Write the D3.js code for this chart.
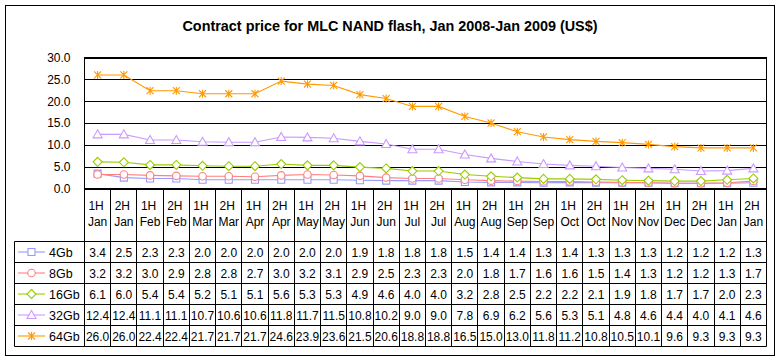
<!DOCTYPE html>
<html>
<head>
<meta charset="utf-8">
<script src="https://cdn.jsdelivr.net/npm/d3@7"></script>
<style>
  html, body { margin: 0; padding: 0; background: #fff; }
  svg { display: block; font-family: Arial, "Liberation Sans", sans-serif; }
</style>
</head>
<body>
<svg id="chart" width="781" height="361"></svg>
<script>
const title = "Contract price for MLC NAND flash, Jan 2008-Jan 2009 (US$)";
const halves = ["1H","2H","1H","2H","1H","2H","1H","2H","1H","2H","1H","2H","1H","2H","1H","2H","1H","2H","1H","2H","1H","2H","1H","2H","1H","2H"];
const months = ["Jan","Jan","Feb","Feb","Mar","Mar","Apr","Apr","May","May","Jun","Jun","Jul","Jul","Aug","Aug","Sep","Sep","Oct","Oct","Nov","Nov","Dec","Dec","Jan","Jan"];
const seriesNames = ["4Gb","8Gb","16Gb","32Gb","64Gb"];
const v4Gb  = [3.4,2.5,2.3,2.3,2.0,2.0,2.0,2.0,2.0,2.0,1.9,1.8,1.8,1.8,1.5,1.4,1.4,1.3,1.4,1.3,1.3,1.3,1.2,1.2,1.2,1.3];
const v8Gb  = [3.2,3.2,3.0,2.9,2.8,2.8,2.7,3.0,3.2,3.1,2.9,2.5,2.3,2.3,2.0,1.8,1.7,1.6,1.6,1.5,1.4,1.3,1.2,1.2,1.3,1.7];
const v16Gb = [6.1,6.0,5.4,5.4,5.2,5.1,5.1,5.6,5.3,5.3,4.9,4.6,4.0,4.0,3.2,2.8,2.5,2.2,2.2,2.1,1.9,1.8,1.7,1.7,2.0,2.3];
const v32Gb = [12.4,12.4,11.1,11.1,10.7,10.6,10.6,11.8,11.7,11.5,10.8,10.2,9.0,9.0,7.8,6.9,6.2,5.6,5.3,5.1,4.8,4.6,4.4,4.0,4.1,4.6];
const v64Gb = [26.0,26.0,22.4,22.4,21.7,21.7,21.7,24.6,23.9,23.6,21.5,20.6,18.8,18.8,16.5,15.0,13.0,11.8,11.2,10.8,10.5,10.1,9.6,9.3,9.3,9.3];
const yTicks = [0,5,10,15,20,25,30];

const seriesValues = [v4Gb, v8Gb, v16Gb, v32Gb, v64Gb];
const colors = ["#9999FF","#FF8080","#99CC00","#CC99FF","#FF9900"];
const markerTypes = ["square","circle","diamond","triangle","star"];

const svg = d3.select("#chart");
const plotL = 84.5, plotR = 766.5, plotT = 57.5, plotB = 188.5;
const tableTop = 241.5, rowH = 21, tableL = 14.5;
const idx = d3.range(halves.length);

const x = d3.scaleBand().domain(idx).range([plotL, plotR]);
const y = d3.scaleLinear().domain([0, 30]).range([plotB, plotT]);

// outer border
svg.append("rect").attr("x", 5.5).attr("y", 5.5).attr("width", 769).attr("height", 350)
  .attr("fill", "#fff").attr("stroke", "#000").attr("stroke-width", 1);

// title
svg.append("text").attr("x", 390).attr("y", 31).attr("text-anchor", "middle")
  .attr("font-size", 14.4).attr("font-weight", "bold").text(title);

// plot area
svg.append("rect").attr("x", plotL).attr("y", plotT).attr("width", plotR - plotL).attr("height", plotB - plotT)
  .attr("fill", "#fff").attr("stroke", "#000");

// gridlines
svg.append("g").selectAll("line").data(yTicks).join("line")
  .attr("x1", plotL).attr("x2", plotR)
  .attr("y1", d => Math.round(y(d)) + 0.5).attr("y2", d => Math.round(y(d)) + 0.5)
  .attr("stroke", "#000");

// y axis
const yAxis = d3.axisLeft(y).tickValues(yTicks).tickFormat(d3.format(".1f")).tickSize(0).tickPadding(14);
const gy = svg.append("g").attr("transform", `translate(${plotL},0)`).call(yAxis);
gy.select(".domain").remove();
gy.selectAll("text").attr("font-size", 12).attr("font-family", "Arial, 'Liberation Sans', sans-serif").attr("fill", "#000");

// table grid: vertical lines at category boundaries
const bounds = idx.map(i => x(i)).concat([plotR]);
svg.append("g").selectAll("line").data(bounds).join("line")
  .attr("x1", d => Math.round(d - 0.5) + 0.5).attr("x2", d => Math.round(d - 0.5) + 0.5)
  .attr("y1", plotB).attr("y2", tableTop + rowH * 5)
  .attr("stroke", "#000");
svg.append("line").attr("x1", tableL).attr("x2", tableL).attr("y1", tableTop).attr("y2", tableTop + rowH * 5).attr("stroke", "#000");
svg.append("g").selectAll("line").data(d3.range(6)).join("line")
  .attr("x1", tableL).attr("x2", plotR)
  .attr("y1", d => tableTop + d * rowH).attr("y2", d => tableTop + d * rowH)
  .attr("stroke", "#000");

// header labels
const hdr = svg.append("g").attr("font-size", 12).attr("text-anchor", "middle");
hdr.selectAll("text.h").data(idx).join("text").attr("class", "h")
  .attr("x", i => x(i) + x.bandwidth() / 2 - 1.5).attr("y", 210).text(i => halves[i]);
hdr.selectAll("text.m").data(idx).join("text").attr("class", "m")
  .attr("x", i => x(i) + x.bandwidth() / 2).attr("y", 226).text(i => months[i]);

function markerPath(type) {
  switch (type) {
    case "square": return "M-3.5,-3.5H3.5V3.5H-3.5Z";
    case "circle": return d3.symbol(d3.symbolCircle, 44)();
    case "diamond": return "M0,-4.5L4.5,0L0,4.5L-4.5,0Z";
    case "triangle": return "M0,-4.5L4.5,3.5H-4.5Z";
    case "star": return "M0,-4V4M-3.5,-3.5L3.5,3.5M-3.5,3.5L3.5,-3.5";
  }
}

// series
const line = d3.line().x((d, i) => x(i) + x.bandwidth() / 2).y(d => y(d));
seriesValues.forEach((vals, s) => {
  const g = svg.append("g");
  g.append("path").datum(vals).attr("d", line).attr("fill", "none")
    .attr("stroke", colors[s]).attr("stroke-width", 1.1);
  g.selectAll("path.mk").data(vals).join("path").attr("class", "mk")
    .attr("transform", (d, i) => `translate(${x(i) + x.bandwidth() / 2},${y(d)})`)
    .attr("d", markerPath(markerTypes[s]))
    .attr("fill", markerTypes[s] === "star" ? "none" : "#fff")
    .attr("stroke", colors[s]).attr("stroke-width", 1.1);
});

// table values and legend keys
seriesValues.forEach((vals, s) => {
  const cy = tableTop + s * rowH + rowH / 2;
  const lg = svg.append("g");
  lg.append("line").attr("x1", 18).attr("x2", 45).attr("y1", cy).attr("y2", cy)
    .attr("stroke", colors[s]).attr("stroke-width", 1.1);
  lg.append("path").attr("transform", `translate(31.5,${cy})`).attr("d", markerPath(markerTypes[s]))
    .attr("fill", markerTypes[s] === "star" ? "none" : "#fff").attr("stroke", colors[s]).attr("stroke-width", 1.1);
  lg.append("text").attr("x", 49).attr("y", cy + 4.5).attr("font-size", 12.5).text(seriesNames[s]);
  svg.append("g").attr("font-size", 12).attr("text-anchor", "middle")
    .selectAll("text").data(vals).join("text")
    .attr("x", (d, i) => x(i) + x.bandwidth() / 2)
    .attr("y", cy + 4.5)
    .text(d => d3.format(".1f")(d));
});
</script>
</body>
</html>
